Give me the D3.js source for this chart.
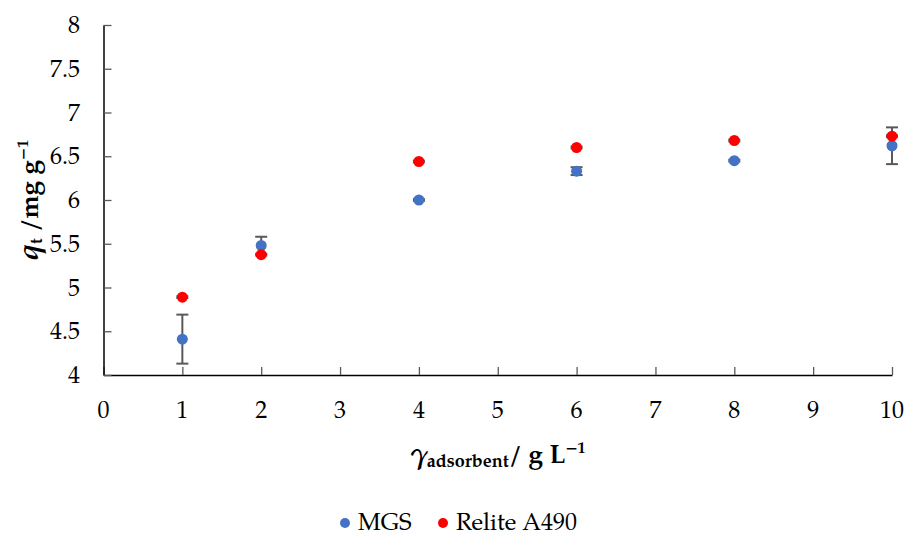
<!DOCTYPE html>
<html>
<head>
<meta charset="utf-8">
<script src="https://cdn.jsdelivr.net/npm/d3@7"></script>
<style>
  body { margin: 0; background: #fff; }
</style>
</head>
<body>
<div id="chart"></div>
<script>
// data
const doses = [1, 2, 4, 6, 8, 10];
const mgsValues = [4.41, 5.48, 6.00, 6.33, 6.45, 6.62];
const mgsErrors = [0.28, 0.10, 0.01, 0.045, 0.01, 0.21];
const reliteValues = [4.89, 5.375, 6.44, 6.60, 6.68, 6.73];
const reliteErrors = [0.01, 0.01, 0.01, 0.01, 0.01, 0.01];
const xTicks = [0, 1, 2, 3, 4, 5, 6, 7, 8, 9, 10];
const yTicks = [4, 4.5, 5, 5.5, 6, 6.5, 7, 7.5, 8];

const series = [
  { name: 'MGS', color: '#4472C4', values: mgsValues, errors: mgsErrors },
  { name: 'Relite A490', color: '#FF0000', values: reliteValues, errors: reliteErrors }
];

const width = 907;
const height = 536;
const margin = { left: 103.5, right: 15, top: 25, bottom: 161 };
const font = '"TeX Gyre Pagella", "Liberation Serif", serif';

const svg = d3.select('#chart').append('svg')
  .attr('width', width)
  .attr('height', height)
  .style('font-family', font);

const x = d3.scaleLinear().domain([0, 10]).range([margin.left, width - margin.right]);
const y = d3.scaleLinear().domain([4, 8]).range([height - margin.bottom, margin.top]);

// x axis, ticks pointing inward
const xAxis = svg.append('g')
  .attr('transform', 'translate(0,' + y(4) + ')')
  .call(d3.axisTop(x).tickValues(xTicks).tickSize(8).tickSizeOuter(0).tickFormat(''));
xAxis.select('.domain').attr('stroke', '#000').attr('stroke-width', 1.5);
xAxis.selectAll('.tick line').attr('stroke', '#595959').attr('stroke-width', 1.3);

svg.append('g').selectAll('text')
  .data(xTicks)
  .join('text')
  .attr('x', d => x(d))
  .attr('y', 418)
  .attr('text-anchor', 'middle')
  .attr('font-size', 24)
  .attr('fill', '#000')
  .text(d => d);

// y axis
const yAxis = svg.append('g')
  .attr('transform', 'translate(' + x(0) + ',0)')
  .call(d3.axisRight(y).tickValues(yTicks).tickSize(8).tickSizeOuter(0).tickFormat(''));
yAxis.select('.domain').attr('stroke', '#000').attr('stroke-width', 1.5);
yAxis.selectAll('.tick line').attr('stroke', '#595959').attr('stroke-width', 1.3);

svg.append('g').selectAll('text')
  .data(yTicks)
  .join('text')
  .attr('x', 80)
  .attr('y', d => y(d) + 8)
  .attr('text-anchor', 'end')
  .attr('font-size', 24)
  .attr('fill', '#000')
  .text(d => d);

// error bars and points
series.forEach(s => {
  const g = svg.append('g');
  const pts = doses.map((d, i) => ({ x: d, v: s.values[i], e: s.errors[i] }));

  g.selectAll('line.err')
    .data(pts)
    .join('line')
    .attr('x1', d => x(d.x)).attr('x2', d => x(d.x))
    .attr('y1', d => y(d.v - d.e)).attr('y2', d => y(d.v + d.e))
    .attr('stroke', '#595959').attr('stroke-width', 2);

  [-1, 1].forEach(sign => {
    g.selectAll('line.cap' + sign)
      .data(pts)
      .join('line')
      .attr('x1', d => x(d.x) - 6).attr('x2', d => x(d.x) + 6)
      .attr('y1', d => y(d.v + sign * d.e)).attr('y2', d => y(d.v + sign * d.e))
      .attr('stroke', '#595959').attr('stroke-width', 2);
  });

  g.selectAll('circle')
    .data(pts)
    .join('circle')
    .attr('cx', d => x(d.x))
    .attr('cy', d => y(d.v))
    .attr('r', 5.5)
    .attr('fill', s.color);
});

// axis titles
const xt = svg.append('text')
  .attr('x', 498)
  .attr('y', 463)
  .attr('text-anchor', 'middle')
  .attr('font-weight', 'bold')
  .attr('font-size', 26)
  .attr('fill', '#000');
xt.append('tspan').attr('font-style', 'italic').attr('font-size', 30).text('γ');
xt.append('tspan').attr('font-size', 18).attr('dy', 4).text('adsorbent');
xt.append('tspan').attr('dy', -4).text('/ g L');
xt.append('tspan').attr('font-size', 16).attr('dy', -10).text('−1');

const yt = svg.append('text')
  .attr('transform', 'translate(38,200) rotate(-90)')
  .attr('text-anchor', 'middle')
  .attr('font-weight', 'bold')
  .attr('font-size', 26)
  .attr('fill', '#000');
yt.append('tspan').attr('font-style', 'italic').attr('font-size', 30).text('q');
yt.append('tspan').attr('font-size', 17).attr('dy', 4).text('t');
yt.append('tspan').attr('dy', -4).text(' /mg g');
yt.append('tspan').attr('font-size', 16).attr('dy', -10).text('−1');

// legend
const legendX = [345, 443];
const legend = svg.append('g').selectAll('g')
  .data(series)
  .join('g')
  .attr('transform', (d, i) => 'translate(' + legendX[i] + ',523)');
legend.append('circle').attr('r', 5).attr('fill', d => d.color);
legend.append('text')
  .attr('x', 13)
  .attr('y', 7)
  .attr('font-size', 24)
  .attr('fill', '#000')
  .text(d => d.name);
</script>
</body>
</html>
